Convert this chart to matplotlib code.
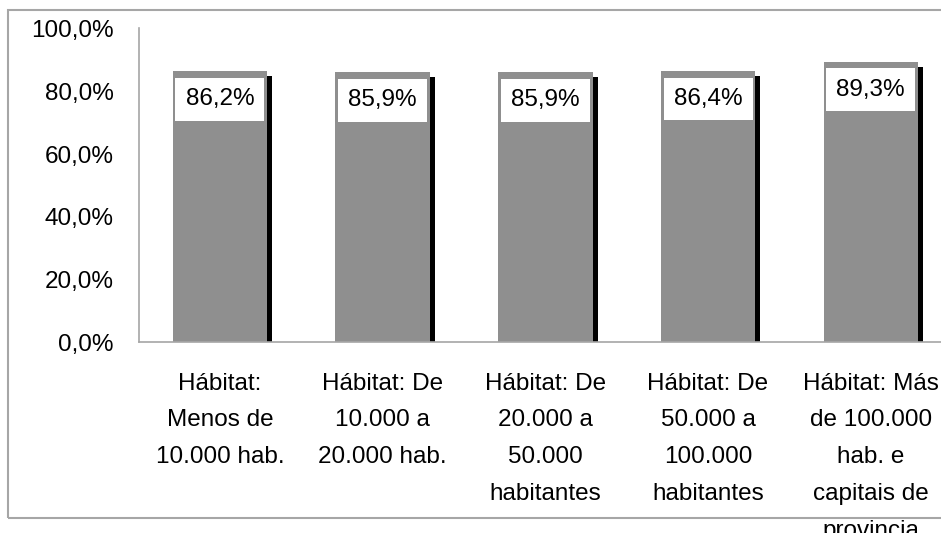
import matplotlib
matplotlib.use("Agg")
import matplotlib.pyplot as plt
import matplotlib.transforms as mtransforms
from matplotlib.patches import Rectangle

# data
categories = [
    "Hábitat:\nMenos de\n10.000 hab.",
    "Hábitat: De\n10.000 a\n20.000 hab.",
    "Hábitat: De\n20.000 a\n50.000\nhabitantes",
    "Hábitat: De\n50.000 a\n100.000\nhabitantes",
    "Hábitat: Más\nde 100.000\nhab. e\ncapitais de\nprovincia",
]
values = [0.862, 0.859, 0.859, 0.864, 0.893]
yticks = [0.0, 0.2, 0.4, 0.6, 0.8, 1.0]

plt.rcParams['font.family'] = ['Liberation Sans', 'DejaVu Sans']
plt.rcParams['font.size'] = 17.5

fig = plt.figure(figsize=(9.41, 5.33), dpi=100)
ax = fig.add_axes([0.1473, 0.3583, 0.8645, 0.5891])
ax.set_facecolor('none')

# outer frame of the chart area
frame = Rectangle((8 / 941, 15 / 533), 1.2, 508 / 533, transform=fig.transFigure,
                  fill=False, edgecolor='#a6a6a6', linewidth=1.5, zorder=-1)
fig.patches.append(frame)

x = range(len(values))
bar_color = '#8f8f8f'

# drop shadow: same bars shifted a few pixels right/down
shadow_tf = ax.transData + mtransforms.ScaledTranslation(5 / 100, -5 / 100, fig.dpi_scale_trans)
shadow = ax.bar(x, values, width=0.58, color='black', zorder=1)
for p in shadow:
    p.set_transform(shadow_tf)

bars = ax.bar(x, values, width=0.58, color=bar_color, zorder=2)

for xi, v in zip(x, values):
    label = f"{v * 100:.1f}%".replace('.', ',')
    ax.annotate(label, (xi, v), xytext=(0, -28), textcoords='offset pixels',
                ha='center', va='center', fontsize=17.5, zorder=3,
                bbox=dict(boxstyle='square,pad=0.42', facecolor='white', edgecolor='none'))

ax.set_xlim(-0.5, len(values) - 0.5)
ax.set_ylim(0, 1)
ax.set_yticks(yticks)
ax.set_yticklabels([f"{t * 100:.1f}%".replace('.', ',') for t in yticks], va='top')
ax.set_xticks(list(x))
ax.set_xticklabels(categories, linespacing=1.87, va='top')

ax.tick_params(axis='y', length=0, pad=18)
ax.tick_params(axis='x', length=0, pad=22)
for t in ax.get_yticklabels():
    t.set_transform(t.get_transform() + mtransforms.ScaledTranslation(0, 0.08, fig.dpi_scale_trans))

for s in ['top', 'right']:
    ax.spines[s].set_visible(False)
for s in ['left', 'bottom']:
    ax.spines[s].set_color('#a6a6a6')
    ax.spines[s].set_linewidth(1.2)

fig.savefig('out.png', dpi=100)
